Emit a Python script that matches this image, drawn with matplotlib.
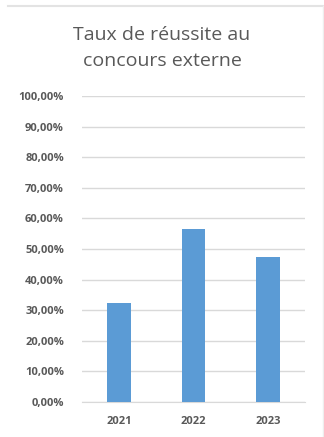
import matplotlib.pyplot as plt
from matplotlib.lines import Line2D
from matplotlib.ticker import FuncFormatter, MultipleLocator

years = ["2021", "2022", "2023"]
taux = [0.324, 0.564, 0.473]

fig = plt.figure(figsize=(3.24, 4.37), dpi=100)
ax = fig.add_axes([82 / 324, 1 - 402 / 437, 223 / 324, 306 / 437])

ax.bar(range(len(years)), taux, width=0.32, color="#5b9bd5", zorder=3)

ax.set_xlim(-0.5, 2.5)
ax.set_ylim(0, 1.0)
ax.yaxis.set_major_locator(MultipleLocator(0.1))
ax.yaxis.set_major_formatter(
    FuncFormatter(lambda v, _: f"{v * 100:.2f}%".replace(".", ","))
)
ax.set_xticks(range(len(years)))
ax.set_xticklabels(years)
ax.grid(axis="y", color="#d9d9d9", linewidth=1, zorder=0)
for s in ["top", "right", "left"]:
    ax.spines[s].set_visible(False)
ax.spines["bottom"].set_color("#d9d9d9")
ax.tick_params(length=0, colors="#595959", labelsize=8)
ax.tick_params(axis="y", pad=13)
ax.tick_params(axis="x", pad=10)
for lbl in ax.get_yticklabels() + ax.get_xticklabels():
    lbl.set_fontweight("bold")
    lbl.set_fontfamily("Open Sans")

fig.text(0.5, 1 - 48 / 437, "Taux de réussite au\nconcours externe",
         ha="center", va="center", fontsize=14, color="#595959",
         family="Open Sans", linespacing=1.6)

# light frame around the chart area
fig.add_artist(Line2D([8 / 324, 1], [1 - 5.5 / 437] * 2, color="#e3e3e3", lw=1.5))
fig.add_artist(Line2D([322.5 / 324] * 2, [0, 1 - 5.5 / 437], color="#eeeeee", lw=1))

fig.savefig("out.png", dpi=100)
